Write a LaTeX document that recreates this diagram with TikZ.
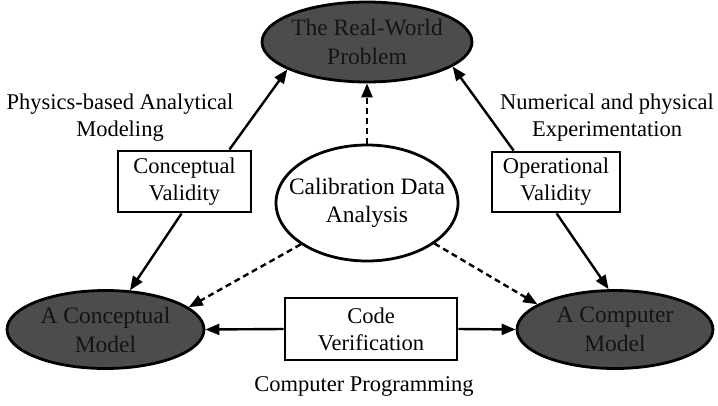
\documentclass[tikz,border=0pt]{standalone}
\usepackage{fontspec}
\setmainfont{Liberation Serif}
\usetikzlibrary{shapes.geometric,arrows.meta}
\definecolor{ellgray}{RGB}{76,76,76}
\definecolor{inktext}{RGB}{20,20,20}

\begin{document}
\begin{tikzpicture}[x=1pt,y=-1pt,
  every node/.style={align=center, inner sep=0pt, text=black, font=\fontsize{22.5}{27}\selectfont},
  darkell/.style={ellipse, draw=black, line width=2.8pt, fill=ellgray, text=inktext,
    inner xsep=-8pt, inner ysep=-4pt, font=\fontsize{23.5}{29}\selectfont},
  lightell/.style={ellipse, draw=black, line width=2.8pt, fill=white,
    inner xsep=-16pt, inner ysep=-4pt, font=\fontsize{23.5}{28}\selectfont},
  valbox/.style={rectangle, draw=black, line width=2.8pt, fill=white},
  arr/.style={-{Triangle[length=14pt,width=11pt]}, line width=2.4pt},
  darr/.style={arr, dash pattern=on 6pt off 4pt},
  sidelabel/.style={font=\fontsize{22.5}{27}\selectfont}
]
\useasboundingbox (0,0) rectangle (718,405);

% the three models
\node[darkell, minimum width=210pt, minimum height=80pt] (real) at (367,42)
  {The Real-World\\Problem};
\node[darkell, minimum width=197pt, minimum height=78pt] (concept) at (105.5,329.5)
  {A Conceptual\\Model};
\node[darkell, minimum width=196pt, minimum height=78pt] (computer) at (615,329.5)
  {A Computer\\Model};

% calibration in the middle
\node[lightell, minimum width=182pt, minimum height=116pt] (calib) at (367,203)
  {Calibration Data\\Analysis};

% validation / verification boxes
\node[valbox, minimum width=133pt, minimum height=61pt] (cval) at (184.5,181.5)
  {Conceptual\\Validity};
\node[valbox, minimum width=128pt, minimum height=60pt] (oval) at (556,182)
  {Operational\\Validity};
\node[valbox, minimum width=172pt, minimum height=62pt] (code) at (371,329)
  {Code\\Verification};

% activity labels
\node[sidelabel] (physlab) at (120,118) {Physics-based Analytical\\Modeling};
\node[sidelabel] (numlab) at (607,118) {Numerical and physical\\Experimentation};
\node[sidelabel] (proglab) at (364,386) {Computer Programming};

% solid connectors
\draw[arr] ([xshift=-23pt]cval.north east) -- (real.199);
\draw[arr] ([xshift=65pt]cval.south west) -- (concept.58);
\draw[arr] ([xshift=23pt]oval.north west) -- (real.344);
\draw[arr] ([xshift=66pt]oval.south west) -- (computer.99);
\draw[arr] (code.west) -- (concept.east);
\draw[arr] (code.east) -- (computer.west);

% dashed connectors from calibration
\draw[darr] (calib.north) -- (real.south);
\draw[darr] (calib.212) -- (concept.15);
\draw[darr] (calib.329) -- (computer.162);
\end{tikzpicture}
\end{document}
